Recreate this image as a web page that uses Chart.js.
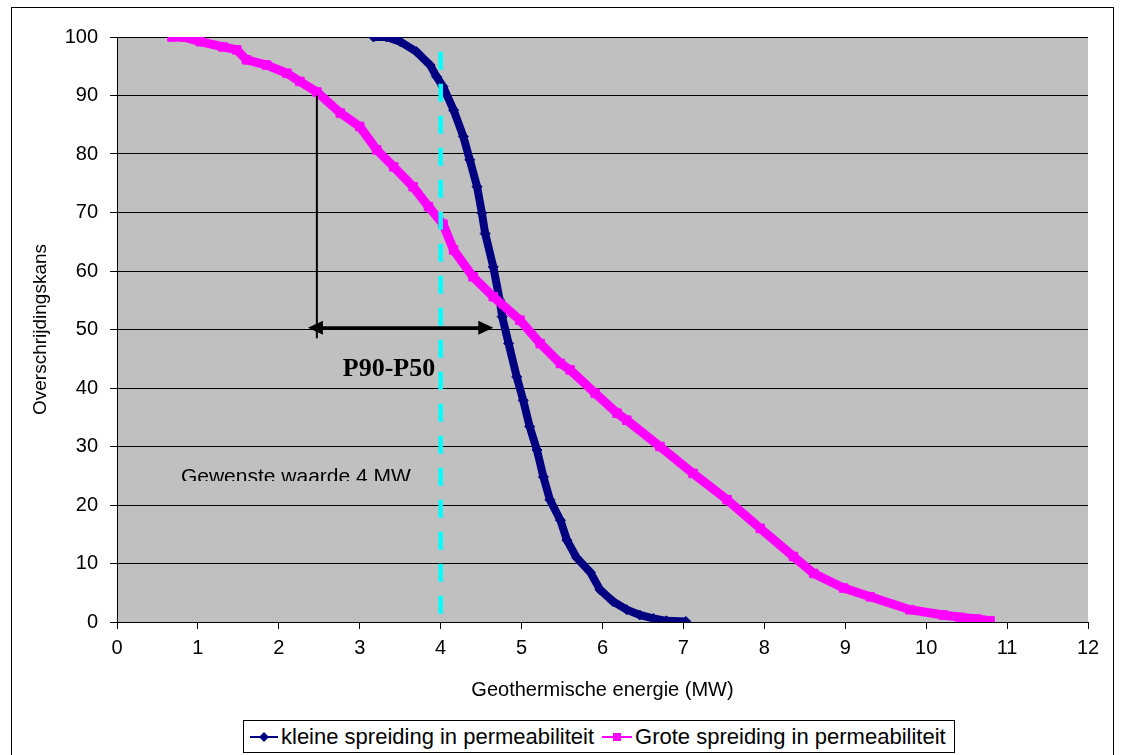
<!DOCTYPE html>
<html>
<head>
<meta charset="utf-8">
<script src="https://cdn.jsdelivr.net/npm/chart.js@4.4.1/dist/chart.umd.min.js"></script>
<style>
  html, body { margin: 0; padding: 0; background: #fff; }
  body { width: 1121px; height: 755px; position: relative; overflow: hidden; font-family: "Liberation Sans", Arial, sans-serif; }
  #frame { position: absolute; left: 11px; top: 7px; width: 1101px; height: 800px; border: 1px solid #000; }
  #wrap { position: absolute; left: 0; top: 0; width: 1121px; height: 755px; }
  #legend { position: absolute; left: 243px; top: 720px; width: 710px; height: 31px; border: 1px solid #000; background: #fff;
            display: flex; align-items: center; font-size: 22px; white-space: nowrap; color: #000; }
  #legend .item { display: flex; align-items: center; }
  #legend svg { display: block; }
</style>
</head>
<body>
<div id="frame"></div>
<div id="wrap"><canvas id="chart" width="1121" height="755"></canvas></div>
<div id="legend"></div>
<script>
// cumulative exceedance curves
const kleineX = [3.17, 3.33, 3.50, 3.70, 3.87, 3.95, 4.03, 4.16, 4.28, 4.36, 4.45, 4.51, 4.55, 4.65, 4.73, 4.76,
                 4.84, 4.94, 5.02, 5.10, 5.19, 5.27, 5.35, 5.48, 5.56, 5.68, 5.85, 5.97, 6.13, 6.30, 6.46, 6.63, 6.79, 7.03];
const kleineY = [100, 100, 99.2, 97.5, 95.2, 93.2, 91.5, 87.5, 83.0, 79.0, 74.4, 69.9, 66.4, 60.7, 55.0, 52.2,
                 47.6, 41.9, 37.9, 33.4, 29.4, 24.8, 20.9, 17.4, 14.0, 11.0, 8.5, 5.5, 3.5, 2.1, 1.2, 0.6, 0.2, 0.1];

const groteX = [0.68, 0.82, 1.03, 1.31, 1.48, 1.60, 1.85, 2.10, 2.26, 2.47, 2.76, 3.00, 3.21, 3.42, 3.66, 3.85, 4.03,
                4.16, 4.40, 4.65, 4.98, 5.23, 5.48, 5.60, 5.91, 6.18, 6.30, 6.71, 7.12, 7.54, 7.95, 8.36, 8.61, 8.98,
                9.31, 9.80, 10.21, 10.42, 10.63, 10.79];
const groteY = [100, 100, 99.2, 98.3, 97.8, 96.1, 95.2, 93.8, 92.4, 90.6, 87.0, 84.7, 80.7, 77.8, 74.4, 71.0, 68.0,
                63.6, 59.0, 55.6, 51.6, 47.6, 44.2, 43.1, 39.1, 35.7, 34.5, 30.0, 25.4, 20.9, 16.0, 11.2, 8.3, 5.8,
                4.3, 2.1, 1.2, 0.8, 0.5, 0.2];

// desired value marker (dashed line at 4 MW)
const gewensteX = [4, 4];
const gewensteY = [97.5, 0];

const seriesNames = ['kleine spreiding in permeabiliteit', 'Grote spreiding in permeabiliteit'];
const xTicks = [0, 1, 2, 3, 4, 5, 6, 7, 8, 9, 10, 11, 12];
const yTicks = [0, 10, 20, 30, 40, 50, 60, 70, 80, 90, 100];

// annotations (data units)
const p90Line = { x: 2.47, yFrom: 90, yTo: 48.5 };
const spreadArrow = { y: 50.3, xFrom: 2.36, xTo: 4.65 };
const spreadLabel = { text: 'P90-P50', x: 2.79, y: 42.05 };
const gewensteLabel = { text: 'Gewenste waarde 4 MW', x: 0.79, y: 23.7, clipY: 24.1 };

const toPoints = (xs, ys) => xs.map((x, i) => ({ x: x, y: ys[i] }));

const plotBg = {
  id: 'plotBg',
  beforeDraw(chart) {
    const a = chart.chartArea, ctx = chart.ctx;
    ctx.save();
    ctx.fillStyle = '#C0C0C0';
    ctx.fillRect(a.left, a.top, a.right - a.left, a.bottom - a.top);
    ctx.restore();
  }
};

function arrowHead(ctx, tipX, y, dir) {
  ctx.beginPath();
  ctx.moveTo(tipX, y);
  ctx.lineTo(tipX - dir * 15, y - 7);
  ctx.lineTo(tipX - dir * 15, y + 7);
  ctx.closePath();
  ctx.fill();
}

const notes = {
  id: 'notes',
  afterDatasetsDraw(chart) {
    const ctx = chart.ctx, xs = chart.scales.x, ys = chart.scales.y, a = chart.chartArea;
    ctx.save();
    ctx.strokeStyle = '#000';
    ctx.fillStyle = '#000';

    ctx.lineWidth = 2;
    const vx = xs.getPixelForValue(p90Line.x);
    ctx.beginPath();
    ctx.moveTo(vx, ys.getPixelForValue(p90Line.yFrom));
    ctx.lineTo(vx, ys.getPixelForValue(p90Line.yTo));
    ctx.stroke();

    const ay = ys.getPixelForValue(spreadArrow.y);
    const x1 = xs.getPixelForValue(spreadArrow.xFrom), x2 = xs.getPixelForValue(spreadArrow.xTo);
    ctx.lineWidth = 3;
    ctx.beginPath();
    ctx.moveTo(x1 + 10, ay);
    ctx.lineTo(x2 - 10, ay);
    ctx.stroke();
    arrowHead(ctx, x1, ay, -1);
    arrowHead(ctx, x2, ay, 1);

    ctx.font = 'bold 26px "Liberation Serif", "Times New Roman", serif';
    ctx.textBaseline = 'alphabetic';
    ctx.textAlign = 'left';
    ctx.fillText(spreadLabel.text, xs.getPixelForValue(spreadLabel.x), ys.getPixelForValue(spreadLabel.y));

    ctx.beginPath();
    ctx.rect(a.left, a.top, a.right - a.left, ys.getPixelForValue(gewensteLabel.clipY) - a.top);
    ctx.clip();
    ctx.font = '21px "Liberation Sans", Arial, sans-serif';
    ctx.fillText(gewensteLabel.text, xs.getPixelForValue(gewensteLabel.x), ys.getPixelForValue(gewensteLabel.y));
    ctx.restore();
  }
};

Chart.defaults.font.family = '"Liberation Sans", Arial, sans-serif';
Chart.defaults.color = '#000';

new Chart(document.getElementById('chart').getContext('2d'), {
  type: 'scatter',
  data: {
    datasets: [
      {
        label: 'Gewenste waarde',
        data: toPoints(gewensteX, gewensteY),
        showLine: true,
        borderColor: '#00FFFF',
        borderWidth: 4.5,
        borderDash: [18, 14],
        pointRadius: 0,
        order: 0
      },
      {
        label: seriesNames[1],
        data: toPoints(groteX, groteY),
        showLine: true,
        borderColor: '#FF00FF',
        backgroundColor: '#FF00FF',
        borderWidth: 9,
        pointStyle: 'rect',
        pointRadius: 6,
        pointBorderWidth: 1,
        order: 1
      },
      {
        label: seriesNames[0],
        data: toPoints(kleineX, kleineY),
        showLine: true,
        borderColor: '#000080',
        backgroundColor: '#000080',
        borderWidth: 8,
        pointStyle: 'rectRot',
        pointRadius: 5,
        pointBorderWidth: 1,
        order: 2
      }
    ]
  },
  options: {
    responsive: false,
    animation: false,
    layout: { padding: { left: 0, top: 37, right: 33, bottom: 53 } },
    plugins: {
      legend: { display: false },
      tooltip: { enabled: false },
      title: { display: false }
    },
    scales: {
      x: {
        type: 'linear',
        min: 0,
        max: 12,
        afterBuildTicks: s => { s.ticks = xTicks.map(v => ({ value: v })); },
        afterFit: s => { s.height = 80; },
        ticks: { font: { size: 20 }, padding: 7, maxRotation: 0 },
        grid: { drawOnChartArea: false, drawTicks: true, tickLength: 7, tickColor: '#000' },
        border: { color: '#000', width: 1 },
        title: { display: true, text: 'Geothermische energie (MW)', font: { size: 20 }, padding: { top: 0, bottom: 0 } }
      },
      y: {
        type: 'linear',
        min: 0,
        max: 100,
        afterBuildTicks: s => { s.ticks = yTicks.map(v => ({ value: v })); },
        afterFit: s => { s.width = 117; },
        ticks: { font: { size: 20 }, padding: 12 },
        grid: { color: '#000', lineWidth: 1, tickLength: 7, tickColor: '#000' },
        border: { color: '#000', width: 1 },
        title: { display: true, text: 'Overschrijdingskans', font: { size: 19 }, padding: { top: 29, bottom: 0 } }
      }
    }
  },
  plugins: [plotBg, notes]
});

// legend: line with marker, like the original
const legend = document.getElementById('legend');
const symbols = [
  '<svg width="28" height="20"><line x1="0" y1="10" x2="28" y2="10" stroke="#000080" stroke-width="2"/>' +
    '<polygon points="14,5 19,10 14,15 9,10" fill="#000080"/></svg>',
  '<svg width="30" height="20"><line x1="0" y1="10" x2="30" y2="10" stroke="#FF00FF" stroke-width="2"/>' +
    '<rect x="11" y="6" width="8" height="8" fill="#FF00FF"/></svg>'
];
const margins = [6, 8];
seriesNames.forEach((name, i) => {
  const item = document.createElement('div');
  item.className = 'item';
  item.style.marginLeft = margins[i] + 'px';
  item.innerHTML = symbols[i] + '<span style="margin-left:3px">' + name + '</span>';
  legend.appendChild(item);
});
</script>
</body>
</html>
